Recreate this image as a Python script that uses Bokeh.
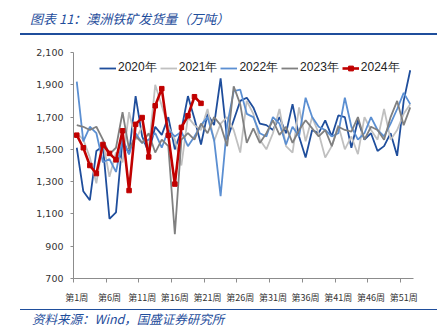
from bokeh.plotting import figure
from bokeh.models import Range1d, FixedTicker, NumeralTickFormatter, Legend, LegendItem, Div
from bokeh.layouts import column
from bokeh.embed import file_html
from bokeh.resources import INLINE

weeks = list(range(1, 53))

y2020 = [1510, 1240, 1185, 1490, 1520, 1070, 1110, 1560, 1470, 1830, 1580, 1480, 1640, 1590,
         1700, 1500, 1620, 1830, 1690, 1530, 1720, 1650, 1940, 1560, 1680, 1800, 1820, 1760,
         1660, 1650, 1620, 1700, 1600, 1780, 1580, 1450, 1620, 1600, 1680, 1580, 1710, 1700,
         1510, 1680, 1560, 1600, 1490, 1520, 1600, 1460, 1800, 1990]
y2021 = [1600, 1560, 1450, 1290, 1550, 1330, 1480, 1420, 1730, 1560, 1640, 1500, 1900, 1770,
         1640, 1560, 1400, 1700, 1650, 1620, 1750, 1550, 1660, 1700, 1620, 1480, 1800, 1720,
         1560, 1500, 1600, 1750, 1520, 1480, 1760, 1550, 1700, 1600, 1450, 1520, 1650, 1500,
         1580, 1470, 1700, 1620, 1560, 1750, 1560, 1620, 1720, 1780]
y2022 = [1920, 1550, 1640, 1600, 1420, 1440, 1360, 1560, 1470, 1600, 1540, 1560, 1600, 1510,
         1620, 1580, 1610, 1520, 1580, 1650, 1700, 1560, 1210, 1650, 1860, 1870, 1720, 1700,
         1600, 1580, 1700, 1660, 1530, 1640, 1580, 1820, 1700, 1640, 1620, 1580, 1600, 1820,
         1640, 1560, 1600, 1700, 1620, 1580, 1660, 1750, 1850, 1780]
y2023 = [1650, 1640, 1620, 1640, 1560, 1470, 1510, 1730, 1500, 1580, 1540, 1600, 1480, 1560,
         1520, 975, 1560, 1600, 1560, 1660, 1600, 1700, 1650, 1520, 1890, 1780, 1540, 1630,
         1540, 1600, 1680, 1590, 1640, 1540, 1620, 1680, 1630, 1580, 1620, 1520, 1640, 1620,
         1610, 1700, 1560, 1640, 1620, 1560, 1700, 1800, 1650, 1760]
weeks2024 = list(range(1, 21))
y2024 = [1588, 1510, 1400, 1350, 1530, 1475, 1435, 1615, 1245, 1655, 1697, 1453, 1770, 1876,
         1587, 1285, 1636, 1708, 1826, 1785]

series_names = ["2020年", "2021年", "2022年", "2023年", "2024年"]
colors = ["#1F4E9C", "#C0C0C0", "#5B8FD2", "#808080", "#C00000"]

y_ticks = [700, 900, 1100, 1300, 1500, 1700, 1900, 2100]
x_label_weeks = [1, 6, 11, 16, 21, 26, 31, 36, 41, 46, 51]
x_labels = ["第1周", "第6周", "第11周", "第16周", "第21周", "第26周", "第31周",
            "第36周", "第41周", "第46周", "第51周"]

p = figure(width=445, height=270, x_range=Range1d(0.5, 52.5), y_range=Range1d(700, 2100),
           output_backend="svg", toolbar_location=None,
           min_border_left=73, min_border_right=32, min_border_top=16, min_border_bottom=28)
p.outline_line_color = None
p.grid.visible = False
p.background_fill_color = "white"
p.border_fill_color = "white"

r20 = p.line(weeks, y2020, line_color=colors[0], line_width=1.8)
r21 = p.line(weeks, y2021, line_color=colors[1], line_width=1.8)
r22 = p.line(weeks, y2022, line_color=colors[2], line_width=1.8)
r23 = p.line(weeks, y2023, line_color=colors[3], line_width=1.8)
r24 = p.line(weeks2024, y2024, line_color=colors[4], line_width=2.6)
r24m = p.scatter(weeks2024, y2024, marker="square", size=4.5, fill_color=colors[4], line_color=colors[4])

xa = p.xaxis[0]
xa.ticker = FixedTicker(ticks=x_label_weeks, minor_ticks=[w - 0.5 for w in x_label_weeks])
xa.major_label_overrides = {w: l for w, l in zip(x_label_weeks, x_labels)}
xa.major_tick_line_color = None
xa.minor_tick_line_color = "#8C8C8C"
xa.minor_tick_out = 4
xa.minor_tick_in = 0
xa.axis_line_color = "#8C8C8C"
xa.major_label_standoff = 6
xa.major_label_text_font = "Noto Sans CJK SC"
xa.major_label_text_font_size = "9px"
xa.major_label_text_color = "#333333"

ya = p.yaxis[0]
ya.ticker = FixedTicker(ticks=y_ticks)
ya.formatter = NumeralTickFormatter(format="0,0")
ya.minor_tick_line_color = None
ya.major_tick_line_color = "#8C8C8C"
ya.major_tick_out = 3
ya.major_tick_in = 0
ya.axis_line_color = "#8C8C8C"
ya.major_label_standoff = 7
ya.major_label_text_font = "DejaVu Sans"
ya.major_label_text_font_size = "9.5px"
ya.major_label_text_color = "#333333"

legend = Legend(items=[LegendItem(label=series_names[0], renderers=[r20]),
                       LegendItem(label=series_names[1], renderers=[r21]),
                       LegendItem(label=series_names[2], renderers=[r22]),
                       LegendItem(label=series_names[3], renderers=[r23]),
                       LegendItem(label=series_names[4], renderers=[r24, r24m])],
                orientation="horizontal", location=(26, 202), padding=0, margin=0,
                spacing=3, glyph_width=17, glyph_height=12, label_standoff=2,
                label_text_font_size="12px", label_text_font="Liberation Sans",
                label_text_color="#222222", label_height=12,
                border_line_color=None, background_fill_alpha=0)
p.add_layout(legend)

title_html = (
    '<div style="position:relative;width:445px;height:36px;">'
    '<div style="position:absolute;left:30px;top:11px;font-family:\'Noto Sans CJK SC\';'
    'font-style:italic;font-size:13px;line-height:15px;color:#1F4E9C;white-space:nowrap;">'
    '图表 11：澳洲铁矿发货量（万吨）</div>'
    '<div style="position:absolute;left:20px;top:33px;width:417px;height:0;'
    'border-top:2px solid #1F4E9C;"></div></div>'
)
src_html = (
    '<div style="position:relative;width:445px;height:30px;">'
    '<div style="position:absolute;left:20px;top:3px;width:417px;height:0;'
    'border-top:1.5px solid #1F4E9C;"></div>'
    '<div style="position:absolute;left:32px;top:5px;font-family:\'Noto Sans CJK SC\';'
    'font-style:italic;font-size:12.5px;line-height:15px;color:#1F4E9C;white-space:nowrap;">'
    '资料来源：Wind，国盛证券研究所</div></div>'
)
title_div = Div(text=title_html, width=445, height=36, margin=0)
src_div = Div(text=src_html, width=445, height=30, margin=0)

layout = column(title_div, p, src_div, spacing=0, margin=0)
open("out.html", "w").write(file_html(layout, INLINE))
